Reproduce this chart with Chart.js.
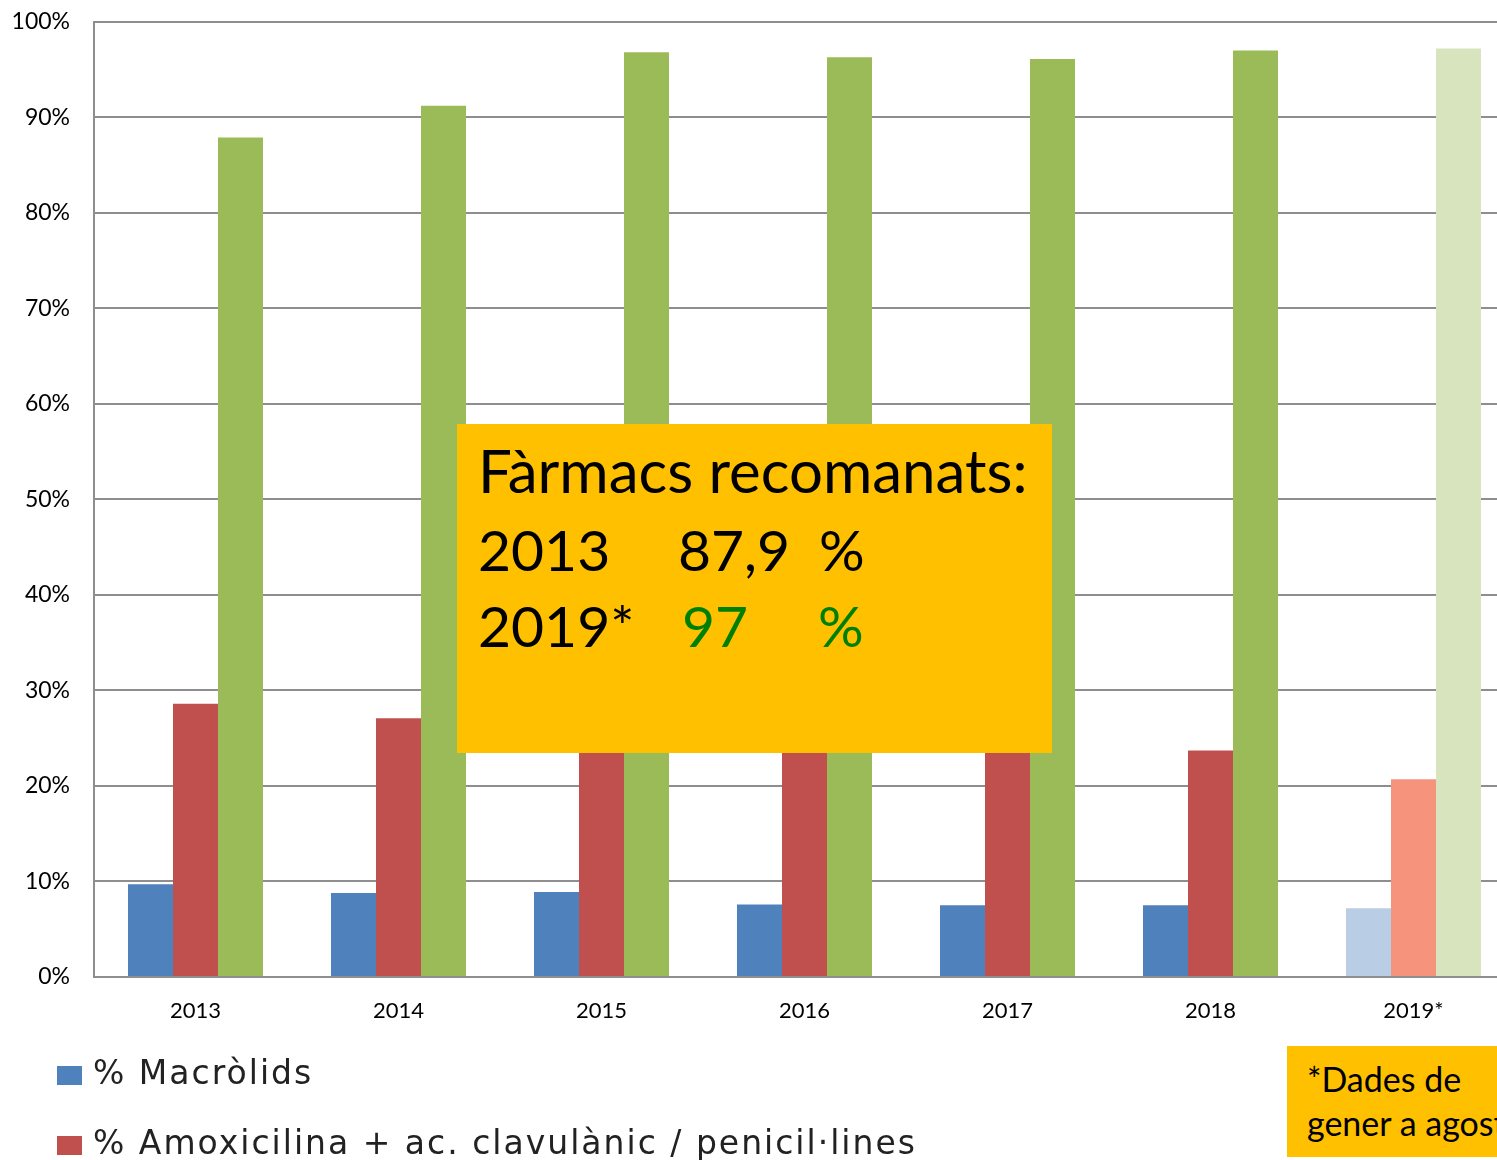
<!DOCTYPE html>
<html>
<head>
<meta charset="utf-8">
<script src="https://cdn.jsdelivr.net/npm/chart.js@4"></script>
<style>
  html, body { margin: 0; padding: 0; overflow: hidden; background: #fff; }
  #wrap { position: relative; width: 1530px; height: 1160px; }
  #chartBox { position: absolute; left: 0; top: -16px; width: 1530px; height: 1056px; }
  .nota { position: absolute; background: #FFC000; font-family: Lato, sans-serif; color: #000; }
  .nota span { position: absolute; white-space: nowrap; }
  #legend { position: absolute; left: 57px; top: 1037px; font-family: "DejaVu Sans", sans-serif; font-size: 33px; color: #222; letter-spacing: 2px; }
  #legend div { height: 70px; display: flex; align-items: center; white-space: nowrap; }
  #legend i { display: inline-block; width: 25px; height: 19px; margin-right: 11px; margin-top: 6px; }
</style>
</head>
<body>
<div id="wrap">
  <div id="chartBox"><canvas id="barChart"></canvas></div>

  <div class="nota" style="left:457px; top:424px; width:595px; height:329px; font-size:57px;">
    <span style="left:21px; top:10px; font-size:60px;">Fàrmacs recomanats:</span>
    <span style="left:21px; top:91px;">2013</span>
    <span style="left:221px; top:91px;">87,9</span>
    <span style="left:362px; top:91px;">%</span>
    <span style="left:21px; top:167px;">2019*</span>
    <span style="left:225px; top:167px; color:#008000;">97</span>
    <span style="left:361px; top:167px; color:#008000;">%</span>
  </div>

  <div class="nota" style="left:1287px; top:1046px; width:260px; height:111px; font-size:34px;">
    <span style="left:20px; top:12px;">*Dades de</span>
    <span style="left:20px; top:56px;">gener a agost</span>
  </div>

  <div id="legend"></div>
</div>

<script>
const years = ['2013', '2014', '2015', '2016', '2017', '2018', '2019*'];
const macrolids = [9.7, 8.8, 8.9, 7.6, 7.5, 7.5, 7.2];
const amoxicilina = [28.6, 27.1, 26.0, 25.0, 24.5, 23.7, 20.7];
const recomanats = [87.9, 91.2, 96.8, 96.3, 96.1, 97.0, 97.2];
const seriesLabels = ['% Macròlids', '% Amoxicilina + ac. clavulànic / penicil·lines', '% Fàrmacs recomanats'];

// colors: normal years, and lighter for 2019 (partial data)
const colBlue = ['#4F81BD', '#B9CDE5'];
const colRed = ['#C0504D', '#F6937D'];
const colGreen = ['#9BBB59', '#D7E4BD'];

function barColors(pair) {
  return years.map((y, i) => i === years.length - 1 ? pair[1] : pair[0]);
}

const ctx = document.getElementById('barChart').getContext('2d');

new Chart(ctx, {
  type: 'bar',
  data: {
    labels: years,
    datasets: [
      { label: seriesLabels[0], data: macrolids, backgroundColor: barColors(colBlue) },
      { label: seriesLabels[1], data: amoxicilina, backgroundColor: barColors(colRed) },
      { label: seriesLabels[2], data: recomanats, backgroundColor: barColors(colGreen) }
    ]
  },
  options: {
    responsive: true,
    maintainAspectRatio: false,
    animation: false,
    categoryPercentage: 0.665,
    barPercentage: 1,
    layout: { padding: { top: 6, right: 15, left: 0, bottom: 0 } },
    plugins: { legend: { display: false }, tooltip: { enabled: false } },
    scales: {
      x: {
        grid: { display: false, drawTicks: false },
        border: { color: '#8E8E8E', width: 2 },
        ticks: { color: '#000', font: { family: 'Lato', size: 22 }, padding: 21 },
        afterFit: s => { s.height = 63; }
      },
      y: {
        min: 0,
        max: 100,
        grid: { color: '#8E8E8E', lineWidth: 2, drawTicks: false },
        border: { color: '#8E8E8E', width: 2 },
        ticks: {
          stepSize: 10,
          color: '#000',
          font: { family: 'Lato', size: 23 },
          padding: 24,
          callback: value => `${value}%`
        },
        afterFit: s => { s.width = 94; }
      }
    }
  }
});

// legend list, one item per line
const legend = document.getElementById('legend');
const legendColors = [colBlue[0], colRed[0], colGreen[0]];
seriesLabels.forEach((lbl, i) => {
  const row = document.createElement('div');
  const sq = document.createElement('i');
  sq.style.background = legendColors[i];
  row.appendChild(sq);
  row.appendChild(document.createTextNode(lbl));
  legend.appendChild(row);
});
</script>
</body>
</html>
